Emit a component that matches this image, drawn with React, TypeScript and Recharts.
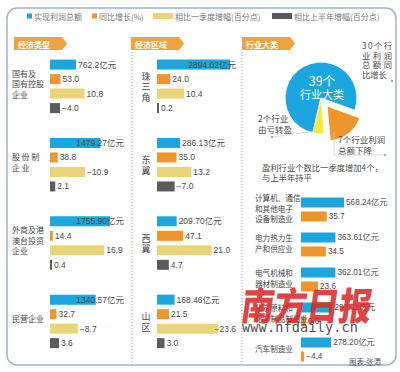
import React from 'react';
import { BarChart, Bar, XAxis, YAxis, LabelList, PieChart, Pie, Cell } from 'recharts';

// ---------- series ----------
const seriesNames = ['实现利润总额', '同比增长(%)', '相比一季度增幅(百分点)', '相比上半年增幅(百分点)'];
const seriesColors = ['#1ba6df', '#f0952b', '#e9d477', '#5b5b5b'];

// ---------- 经济类型 ----------
const typeTitle = '经济类型';
const typeCategories = ['国有及国有控股企业', '股份制企业', '外商及港澳台投资企业', '民营企业'];
const typeLabelLines = [['国有及', '国有控股', '企业'], ['股\u2009份\u2009制', '企\u2009业'], ['外商及港', '澳台投资', '企业'], ['民营企业']];
const typeProfit = [762.2, 1479.27, 1755.9, 1340.57];
const typeProfitDecimals = [1, 2, 2, 2];
const typeGrowth = [53.0, 38.8, 14.4, 32.7];
const typeVsQ1 = [10.8, -10.9, 16.9, -8.7];
const typeVsH1 = [-4.0, 2.1, 0.4, 3.6];

// ---------- 经济区域 ----------
const regionTitle = '经济区域';
const regionCategories = ['珠三角', '东翼', '西翼', '山区'];
const regionProfit = [2894.02, 286.13, 209.7, 168.46];
const regionProfitDecimals = [2, 2, 2, 2];
const regionGrowth = [24.0, 35.0, 47.1, 21.5];
const regionVsQ1 = [10.4, 13.2, 21.0, -23.6];
const regionVsH1 = [0.2, -7.0, 4.7, 3.0];

// ---------- 行业大类 ----------
const industryTitle = '行业大类';
const industryCategories = ['计算机、通信和其他电子设备制造业', '电力热力生产和供应业', '电气机械和器材制造业', '化学原料和化学制品制造业', '汽车制造业'];
const industryLabelLines = [['计算机、通信', '和其他电子', '设备制造业'], ['电力热力生', '产和供应业'], ['电气机械和', '器材制造业'], ['化学原料和', '化学制品制造业'], ['汽车制造业']];
const industryProfit = [568.24, 363.61, 362.01, 293.11, 278.2];
const industryGrowth = [35.7, 34.5, 23.6, 6.6, -4.4];

// ---------- pie ----------
const pieNames = ['利润总额同比增长', '由亏转盈', '利润总额下降'];
const pieCounts = [30, 2, 7];
const pieColors = ['#1ba6df', '#f3ea3c', '#f0952b'];
const pieTotalText = ['39个', '行业大类'];

const CJK = "'Noto Sans CJK SC', 'Noto Sans', sans-serif";
const NUM = "'Liberation Sans', Arial, 'Noto Sans CJK SC', sans-serif";
const LABEL_COLOR = '#4a4a4a';
const TEXT_COLOR = '#4d4d4d';
const AXIS_W = 30;

const signed = (v: number) => (v < 0 ? '\u2212' + Math.abs(v).toFixed(1) : v.toFixed(1));

function buildRows(cats: string[], profit: number[], dec: number[], growth: number[], q1: number[], h1: number[]) {
  return cats.map((name, i) => ({
    name,
    profit: profit[i],
    profitText: profit[i].toFixed(dec[i]) + '亿元',
    growth: Math.abs(growth[i]),
    growthText: signed(growth[i]),
    q1: Math.abs(q1[i]),
    q1Text: signed(q1[i]),
    h1: Math.abs(h1[i]),
    h1Text: signed(h1[i]),
  }));
}

const typeRows = buildRows(typeCategories, typeProfit, typeProfitDecimals, typeGrowth, typeVsQ1, typeVsH1);
const regionRows = buildRows(regionCategories, regionProfit, regionProfitDecimals, regionGrowth, regionVsQ1, regionVsH1);
const industryRows = industryCategories.map((name, i) => ({
  name,
  profit: industryProfit[i],
  profitText: industryProfit[i].toFixed(2) + '亿元',
  growth: Math.abs(industryGrowth[i]),
  growthText: signed(industryGrowth[i]),
}));
const pieRows = pieNames.map((name, i) => ({ name, value: pieCounts[i] }));

function textWidth(s: string, size: number) {
  let w = 0;
  for (const ch of s) {
    if (/[0-9]/.test(ch)) w += 0.556 * size;
    else if (ch === '.') w += 0.278 * size;
    else if (ch === '\u2212' || ch === '-') w += 0.584 * size;
    else w += size;
  }
  return w;
}

function makeLabel(limit: number, size: number) {
  return (props: any) => {
    const vb = props.viewBox || {};
    const x = vb.x ?? props.x;
    const y = vb.y ?? props.y;
    const width = vb.width ?? props.width ?? 0;
    const height = vb.height ?? props.height ?? 0;
    const text = String(props.value);
    const w = textWidth(text, size);
    const end = Math.min(x + width + 2 + w, limit);
    return (
      <text x={end} y={y + height / 2} textAnchor="end" dominantBaseline="central" fontSize={size} fill={LABEL_COLOR} fontFamily={NUM}>
        {text}
      </text>
    );
  };
}

function linesTick(lines: string[][], cats: string[], x0: number, size: number, step: number, anchor: 'start' | 'middle', dy: number) {
  return (props: any) => {
    const { y, payload } = props;
    const idx = cats.indexOf(payload && payload.value);
    const ls = lines[idx] || [String(payload && payload.value)];
    const n = ls.length;
    return (
      <g>
        {ls.map((l, i) => (
          <text key={i} x={x0} y={y + dy + (i - (n - 1) / 2) * step} textAnchor={anchor} dominantBaseline="central" fontSize={size} fill="#444" fontFamily={CJK}>
            {l}
          </text>
        ))}
      </g>
    );
  };
}

const keys = ['profit', 'growth', 'q1', 'h1'];

function FourPanel({ rows, barStart, right, domains, scales, limit, tick }: any) {
  return (
    <div style={{ position: 'absolute', left: 0, top: 0 }}>
      <BarChart width={400} height={372} data={rows} layout="vertical" margin={{ top: 47.6, bottom: 11, left: barStart - AXIS_W, right }} barGap={4.5} barSize={10}>
        <YAxis type="category" dataKey="name" width={AXIS_W} axisLine={false} tickLine={false} interval={0} tick={tick} />
        {keys.map((k, i) => (
          <XAxis key={k} xAxisId={k} type="number" domain={[0, domains[i]]} scale={scales[i]} hide allowDataOverflow />
        ))}
        {keys.map((k, i) => (
          <Bar key={k} xAxisId={k} dataKey={k} name={seriesNames[i]} fill={seriesColors[i]} isAnimationActive={false} minPointSize={2}>
            <LabelList dataKey={k + 'Text'} content={makeLabel(limit, 8.5)} />
          </Bar>
        ))}
      </BarChart>
    </div>
  );
}

function Tag({ x, label }: { x: number; label: string }) {
  const y0 = 37, y1 = 50, w = 48, tip = 5;
  return (
    <g>
      <path d={`M${x} ${y0}H${x + w}L${x + w + tip} ${(y0 + y1) / 2}L${x + w} ${y1}H${x}Z`} fill="#f1a13e" />
      <text x={x + 4} y={(y0 + y1) / 2 + 0.5} dominantBaseline="central" fill="#fff" fontSize={8} fontWeight="bold" fontFamily={CJK}>
        {label}
      </text>
    </g>
  );
}

const legendLayout = [
  { x: 27, w: 5, h: 5 },
  { x: 92, w: 5, h: 5 },
  { x: 153, w: 20, h: 6 },
  { x: 272, w: 20, h: 6 },
];

export default function App() {
  return (
    <div style={{ position: 'absolute', left: 0, top: 0, width: 400, height: 372, background: '#fff', overflow: 'hidden' }}>
      <svg width={400} height={372} style={{ position: 'absolute', left: 0, top: 0 }}>
        <rect x={7} y={8} width={389} height={357} rx={10} fill="#fff" stroke="#9fb2cc" strokeWidth={1.5} />
        {seriesNames.map((n, i) => (
          <g key={n}>
            <rect x={legendLayout[i].x} y={16 - legendLayout[i].h / 2} width={legendLayout[i].w} height={legendLayout[i].h} fill={seriesColors[i]} />
            <text x={legendLayout[i].x + legendLayout[i].w + 2} y={16} dominantBaseline="central" fontSize={8} fill="#777" fontFamily={CJK}>
              {n}
            </text>
          </g>
        ))}
        <Tag x={14} label={typeTitle} />
        <Tag x={131} label={regionTitle} />
        <Tag x={242} label={industryTitle} />
        <line x1={132} y1={52} x2={132} y2={362} stroke="#999" strokeWidth={1} strokeDasharray="1 2" />
        <line x1={242} y1={52} x2={242} y2={362} stroke="#999" strokeWidth={1} strokeDasharray="1 2" />
      </svg>

      <FourPanel
        rows={typeRows}
        barStart={50}
        right={275}
        domains={[2200, 380, 23.4, 30]}
        scales={['linear', 'linear', 'linear', 'linear']}
        limit={124}
        tick={linesTick(typeLabelLines, typeCategories, 12, 8, 10.5, 'start', -3)}
      />
      <FourPanel
        rows={regionRows}
        barStart={157}
        right={165}
        domains={[3303, 140, 30, 31]}
        scales={['sqrt', 'linear', 'linear', 'linear']}
        limit={236}
        tick={linesTick(regionCategories.map((c) => c.split('')), regionCategories, 146, 9, 10.5, 'middle', 0)}
      />

      <div style={{ position: 'absolute', left: 0, top: 0 }}>
        <BarChart width={400} height={372} data={industryRows} layout="vertical" margin={{ top: 191.5, bottom: 5.5, left: 301 - AXIS_W, right: 19 }} barGap={4} barSize={10}>
          <YAxis type="category" dataKey="name" width={AXIS_W} axisLine={false} tickLine={false} interval={0} tick={linesTick(industryLabelLines, industryCategories, 255, 7.6, 10.5, 'start', -1)} />
          <XAxis xAxisId="profit" type="number" domain={[0, 1966]} scale="sqrt" hide allowDataOverflow />
          <XAxis xAxisId="growth" type="number" domain={[0, 111]} hide allowDataOverflow />
          <Bar xAxisId="profit" dataKey="profit" name={seriesNames[0]} fill={seriesColors[0]} isAnimationActive={false} minPointSize={2}>
            <LabelList dataKey="profitText" content={makeLabel(394, 8.2)} />
          </Bar>
          <Bar xAxisId="growth" dataKey="growth" name={seriesNames[1]} fill={seriesColors[1]} isAnimationActive={false} minPointSize={2}>
            <LabelList dataKey="growthText" content={makeLabel(394, 8.2)} />
          </Bar>
        </BarChart>
      </div>

      <div style={{ position: 'absolute', left: 0, top: 0 }}>
        <PieChart width={400} height={372} margin={{ top: 0, right: 0, bottom: 0, left: 0 }}>
          <Pie data={pieRows} dataKey="value" nameKey="name" cx={321} cy={98} outerRadius={36} startAngle={-20} endAngle={340} isAnimationActive={false} stroke="#fff" strokeWidth={1}>
            {pieRows.map((r, i) => (
              <Cell key={r.name} fill={i === 2 ? 'transparent' : pieColors[i]} stroke={i === 2 ? 'none' : '#fff'} />
            ))}
          </Pie>
          <Pie data={pieRows} dataKey="value" nameKey="name" cx={327} cy={106} outerRadius={35} startAngle={-20} endAngle={340} isAnimationActive={false} stroke="#fff" strokeWidth={1}>
            {pieRows.map((r, i) => (
              <Cell key={r.name} fill={i === 2 ? pieColors[i] : 'transparent'} stroke={i === 2 ? '#fff' : 'none'} />
            ))}
          </Pie>
        </PieChart>
      </div>

      <svg width={400} height={372} style={{ position: 'absolute', left: 0, top: 0, pointerEvents: 'none' }}>
        <text x={322} y={80} textAnchor="middle" dominantBaseline="central" fontSize={12.5} fill="#fff" fontFamily={CJK}>{pieTotalText[0]}</text>
        <text x={322} y={94} textAnchor="middle" dominantBaseline="central" fontSize={11} fill="#fff" fontFamily={CJK}>{pieTotalText[1]}</text>

        {['30个行', '业利润', '总额同'].map((l, i) => (
          <text key={l} x={362} y={45 + i * 9.7} dominantBaseline="central" fontSize={8.3} fill={TEXT_COLOR} fontFamily={CJK} textLength={30} lengthAdjust="spacing">{l}</text>
        ))}
        <text x={362} y={74} dominantBaseline="central" fontSize={8.3} fill={TEXT_COLOR} fontFamily={CJK}>比增长</text>
        <circle cx={392} cy={81} r={1} fill="#888" />

        <text x={258} y={118} dominantBaseline="central" fontSize={8.5} fill={TEXT_COLOR} fontFamily={CJK}>2个行业</text>
        <text x={258} y={129} dominantBaseline="central" fontSize={8.5} fill={TEXT_COLOR} fontFamily={CJK}>由亏转盈</text>
        <polyline points="272,137 316,131" fill="none" stroke="#ccc" strokeWidth={0.8} />
        <circle cx={272} cy={137} r={1} fill="#888" />

        <text x={338} y={139} dominantBaseline="central" fontSize={8.5} fill={TEXT_COLOR} fontFamily={CJK}>7个行业利润</text>
        <text x={338} y={149.5} dominantBaseline="central" fontSize={8.5} fill={TEXT_COLOR} fontFamily={CJK}>总额下降</text>
        <polyline points="334,132 334,155 384,155" fill="none" stroke="#ccc" strokeWidth={0.8} />
        <circle cx={385} cy={155} r={1} fill="#888" />

        <text x={262} y={167} dominantBaseline="central" fontSize={8.3} fill={TEXT_COLOR} fontFamily={CJK}>盈利行业个数比一季度增加4个，</text>
        <text x={262} y={177} dominantBaseline="central" fontSize={8.3} fill={TEXT_COLOR} fontFamily={CJK}>与上半年持平</text>

        <g transform="translate(240,320) skewX(-8)" opacity={0.88}>
          <text x={0} y={0} fontSize={38} fontWeight={900} fill="#dd2a2a" fontFamily={CJK} textLength={130} lengthAdjust="spacingAndGlyphs">南方日报</text>
        </g>
        <text x={242} y={332} fontSize={13.5} fill="#333" opacity={0.85} fontFamily="'DejaVu Sans Mono', 'Liberation Mono', monospace" textLength={116} lengthAdjust="spacing">www.nfdaily.cn</text>

        <text x={381} y={361} textAnchor="end" dominantBaseline="central" fontSize={7.5} fill="#555" fontFamily={CJK}>图表:张潭</text>
      </svg>
    </div>
  );
}
